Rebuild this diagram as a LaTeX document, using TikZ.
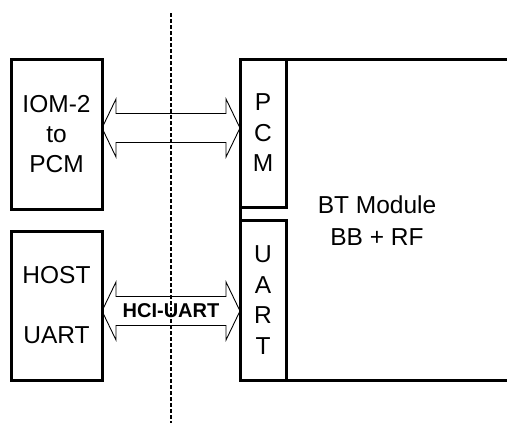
\documentclass[tikz,border=0pt]{standalone}
\usepackage{fontspec}
\setmainfont{Liberation Sans}
\usepackage{tikz}
\usetikzlibrary{calc}
\tikzset{
  unitbox/.style={draw=black,line width=3pt,outer sep=0pt,inner sep=0pt,align=center,font=\fontsize{24.5}{30}\selectfont},
  portbox/.style={unitbox,minimum width=46pt,font=\fontsize{24.5}{30.5}\selectfont},
  busarrow/.style={draw=black,line width=0.9pt,line join=miter},
  buslabel/.style={font=\bfseries\fontsize{20}{24}\selectfont,inner sep=0pt},
  cutline/.style={line width=2.4pt,dash pattern=on 4pt off 2pt}
}

\begin{document}
\begin{tikzpicture}[x=1pt,y=-1pt]
\useasboundingbox (0,0) rectangle (507,423);
% host side
\node[unitbox,minimum width=91pt,minimum height=150pt] (iom) at (56.5,134) {IOM-2\\to\\PCM};
\node[unitbox,minimum width=91pt,minimum height=149pt] (host) at (56.5,305.5) {HOST\\[30pt]UART};
% module side
\node[portbox,minimum height=148pt] (pcm) at (263,133) {P\\C\\M};
\node[portbox,minimum height=160pt] (uart) at (263,300) {U\\A\\R\\T};
\draw[unitbox] (507,59) -- (pcm.north west) -- (uart.south west) -- (507,380);
\node[align=center,font=\fontsize{24.5}{32}\selectfont] (bt) at (377,221) {BT Module\\BB + RF};
% buses
\coordinate (pcmL) at (iom.east |- 0,128);
\coordinate (pcmR) at (pcm.west |- 0,128);
\coordinate (uartL) at (host.east |- 0,311);
\coordinate (uartR) at (uart.west |- 0,311);
\draw[busarrow] (pcmL) -- ++(14,-29) -- ++(0,14.5) -- ($(pcmR)+(-14,-14.5)$) -- ++(0,-14.5) -- (pcmR)
  -- ++(-14,29) -- ++(0,-14.5) -- ($(pcmL)+(14,14.5)$) -- ++(0,14.5) -- cycle;
\draw[busarrow] (uartL) -- ++(14,-29) -- ++(0,14.5) -- ($(uartR)+(-14,-14.5)$) -- ++(0,-14.5) -- (uartR)
  -- ++(-14,29) -- ++(0,-14.5) -- ($(uartL)+(14,14.5)$) -- ++(0,14.5) -- cycle;
\node[buslabel] (hci) at ($(uartL)!0.5!(uartR)$) {HCI-UART};
% interface cut
\coordinate (cutTop) at (171,13);
\coordinate (cutBot) at (171,423);
\draw[cutline] (cutTop) -- (cutBot);
\end{tikzpicture}
\end{document}
